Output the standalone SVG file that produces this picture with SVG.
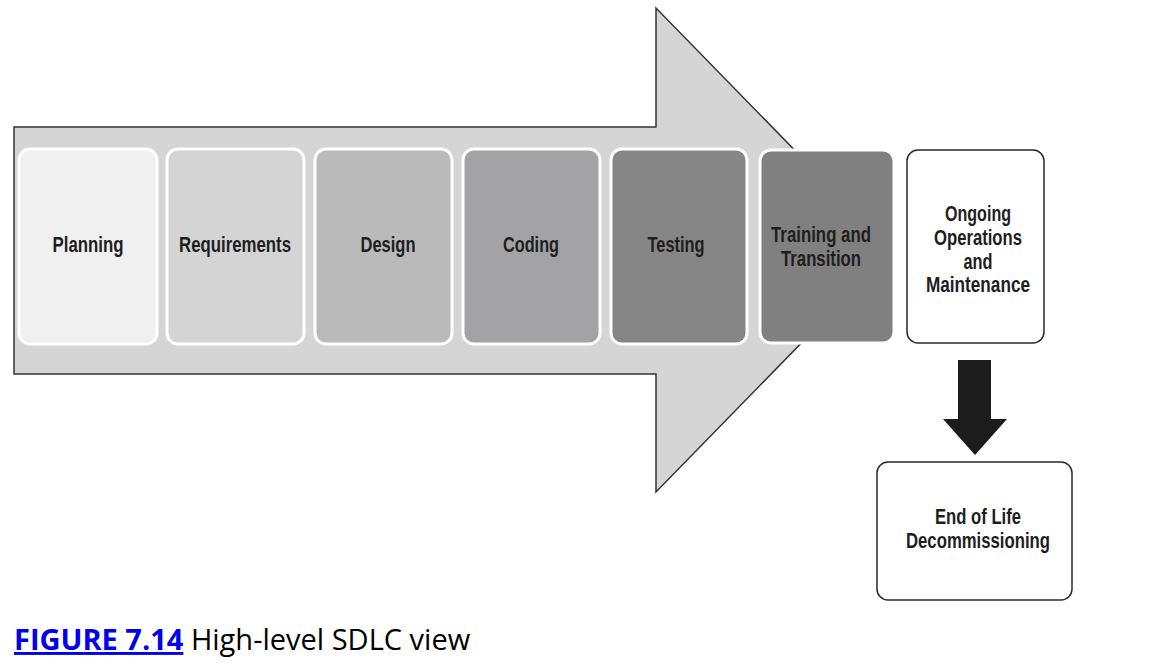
<svg xmlns="http://www.w3.org/2000/svg" width="1166" height="672" viewBox="0 0 1166 672">
<style>
.lbl{font-family:"Liberation Sans",Arial,sans-serif;font-weight:bold;font-size:22px;fill:#1e1e1e;text-anchor:middle}
.stage{stroke:#ffffff;stroke-width:3}
.plain{fill:#ffffff;stroke:#2a2a2a;stroke-width:1.5}
.cap{font-family:"Open Sans","Noto Sans",sans-serif;font-size:29px}
</style>
<rect width="1166" height="672" fill="#ffffff"/>
<g id="connectors">
<path id="big-arrow" d="M14 127 H656 V8 L892 250 L656 492 V374 H14 Z" fill="#d5d5d5" stroke="#333333" stroke-width="1.5" stroke-linejoin="miter"/>
<path id="down-arrow" d="M958 360 H991 V419 H1007 L975 455 L943 419 H958 Z" fill="#1c1c1c"/>
</g>
<g id="planning"><rect class="stage" x="19" y="149" width="138" height="195" rx="11" fill="#f0f0f0"/><text class="lbl" x="88" y="252" textLength="71" lengthAdjust="spacingAndGlyphs">Planning</text></g>
<g id="requirements"><rect class="stage" x="167" y="149" width="137" height="195" rx="11" fill="#d4d4d4"/><text class="lbl" x="235" y="252" textLength="112" lengthAdjust="spacingAndGlyphs">Requirements</text></g>
<g id="design"><rect class="stage" x="315" y="149" width="137" height="195" rx="11" fill="#bababa"/><text class="lbl" x="388" y="252" textLength="55" lengthAdjust="spacingAndGlyphs">Design</text></g>
<g id="coding"><rect class="stage" x="463" y="149" width="137" height="195" rx="11" fill="#a3a3a5"/><text class="lbl" x="531" y="252" textLength="56" lengthAdjust="spacingAndGlyphs">Coding</text></g>
<g id="testing"><rect class="stage" x="611" y="149" width="136" height="195" rx="11" fill="#868686"/><text class="lbl" x="676" y="252" textLength="57" lengthAdjust="spacingAndGlyphs">Testing</text></g>
<g id="training"><rect class="stage" x="760" y="150" width="134" height="193" rx="11" fill="#808080"/><text class="lbl" x="821" y="242" textLength="100" lengthAdjust="spacingAndGlyphs">Training and</text><text class="lbl" x="821" y="266" textLength="80" lengthAdjust="spacingAndGlyphs">Transition</text></g>
<g id="operations"><rect class="plain" x="907" y="150" width="137" height="193" rx="11"/><text class="lbl" x="978" y="221" textLength="66" lengthAdjust="spacingAndGlyphs">Ongoing</text><text class="lbl" x="978" y="245" textLength="88" lengthAdjust="spacingAndGlyphs">Operations</text><text class="lbl" x="978" y="269" textLength="29" lengthAdjust="spacingAndGlyphs">and</text><text class="lbl" x="978" y="292" textLength="104" lengthAdjust="spacingAndGlyphs">Maintenance</text></g>
<g id="end-of-life"><rect class="plain" x="877" y="462" width="195" height="138" rx="11"/><text class="lbl" x="978" y="524" textLength="86" lengthAdjust="spacingAndGlyphs">End of Life</text><text class="lbl" x="978" y="548" textLength="144" lengthAdjust="spacingAndGlyphs">Decommissioning</text></g>
<g id="caption"><text class="cap" x="14" y="650"><tspan fill="#0000ee" font-weight="bold" text-decoration="underline">FIGURE 7.14</tspan><tspan fill="#000000"> High-level SDLC view</tspan></text></g>
</svg>
